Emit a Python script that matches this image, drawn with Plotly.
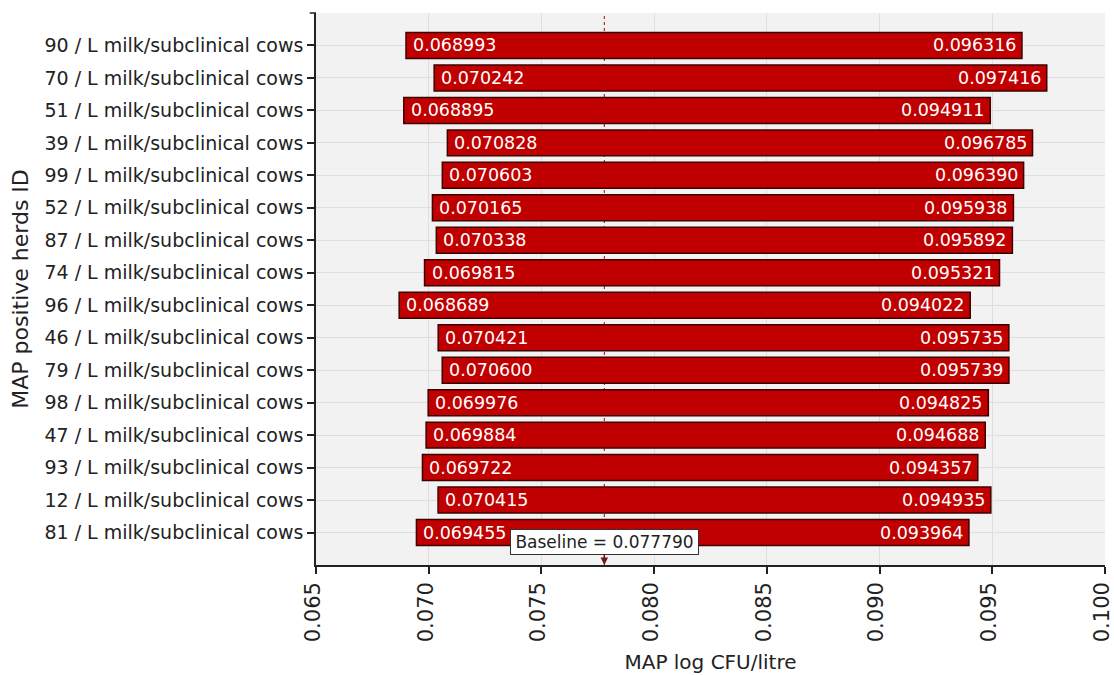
import plotly.graph_objects as go

herds = ["90", "70", "51", "39", "99", "52", "87", "74", "96", "46", "79", "98", "47", "93", "12", "81"]
low_values = [0.068993, 0.070242, 0.068895, 0.070828, 0.070603, 0.070165, 0.070338, 0.069815,
              0.068689, 0.070421, 0.070600, 0.069976, 0.069884, 0.069722, 0.070415, 0.069455]
high_values = [0.096316, 0.097416, 0.094911, 0.096785, 0.096390, 0.095938, 0.095892, 0.095321,
               0.094022, 0.095735, 0.095739, 0.094825, 0.094688, 0.094357, 0.094935, 0.093964]
baseline = 0.077790
x_ticks = [0.065, 0.070, 0.075, 0.080, 0.085, 0.090, 0.095, 0.100]

labels = [f"{h} / L milk/subclinical cows" for h in herds]
FONT = "DejaVu Sans"
INK = "#222222"

fig = go.Figure()

# range bars from low to high value
fig.add_trace(go.Bar(
    y=labels,
    x=[hi - lo for lo, hi in zip(low_values, high_values)],
    base=low_values,
    orientation="h",
    width=0.8,
    marker=dict(color="#c00000", line=dict(color="#3d0000", width=1.5)),
    hoverinfo="skip",
))

# value labels at both ends of each bar
for lab, lo, hi in zip(labels, low_values, high_values):
    fig.add_annotation(x=lo, y=lab, text=f"{lo:.6f}", showarrow=False,
                       xanchor="left", xshift=5, yshift=0,
                       font=dict(family=FONT, size=17.5, color="white"))
    fig.add_annotation(x=hi, y=lab, text=f"{hi:.6f}", showarrow=False,
                       xanchor="right", xshift=-3, yshift=0,
                       font=dict(family=FONT, size=17.5, color="white"))

# baseline marker line
fig.add_shape(type="line", xref="x", yref="paper", x0=baseline, x1=baseline, y0=0, y1=1,
              line=dict(color="#b00000", width=1, dash="dot"), layer="below")

# baseline label with arrow to the axis
fig.add_annotation(
    x=baseline, xref="x", y=0, yref="paper",
    text=f"Baseline = {baseline:.6f}",
    showarrow=True, ax=0, ay=-23, arrowhead=2, arrowsize=1, arrowwidth=1.5,
    arrowcolor="#6b1b1b", standoff=0,
    font=dict(family=FONT, size=17, color=INK),
    bgcolor="white", bordercolor="#333333", borderwidth=1, borderpad=2,
    width=183,
)

# small cap at top of the y axis
fig.add_shape(type="line", xref="paper", yref="paper", x0=-0.008, x1=0, y0=1, y1=1,
              line=dict(color=INK, width=1.5))

fig.update_layout(
    width=1114, height=675,
    margin=dict(l=316, r=9, t=13, b=110, autoexpand=False),
    paper_bgcolor="white",
    plot_bgcolor="#f2f2f2",
    showlegend=False,
    bargap=0.2,
    font=dict(family=FONT, color=INK),
)

fig.update_xaxes(
    range=[0.065, 0.100],
    tickvals=x_ticks,
    ticktext=[f"{t:.3f}" for t in x_ticks],
    tickangle=-90,
    tickfont=dict(family=FONT, size=21, color=INK),
    ticklabeloverflow="allow",
    ticklabelshift=-3,
    ticks="outside", ticklen=7, tickcolor=INK, tickwidth=1.5,
    showline=True, linecolor=INK, linewidth=1.5,
    showgrid=True, gridcolor="#dedede", gridwidth=1,
    zeroline=False, automargin=False,
    title=dict(text="MAP log CFU/litre", font=dict(family=FONT, size=20, color=INK), standoff=14),
)

fig.update_yaxes(
    type="category",
    categoryorder="array", categoryarray=labels,
    range=[len(labels), -1],
    tickfont=dict(family=FONT, size=19, color=INK),
    ticks="outside", ticklen=7, tickcolor=INK, tickwidth=1.5,
    showline=True, linecolor=INK, linewidth=1.5,
    showgrid=True, gridcolor="#dedede", gridwidth=1,
    zeroline=False, automargin=False,
    title=dict(text="MAP positive herds ID", font=dict(family=FONT, size=22, color=INK), standoff=10),
)

fig.write_html("out.html")
